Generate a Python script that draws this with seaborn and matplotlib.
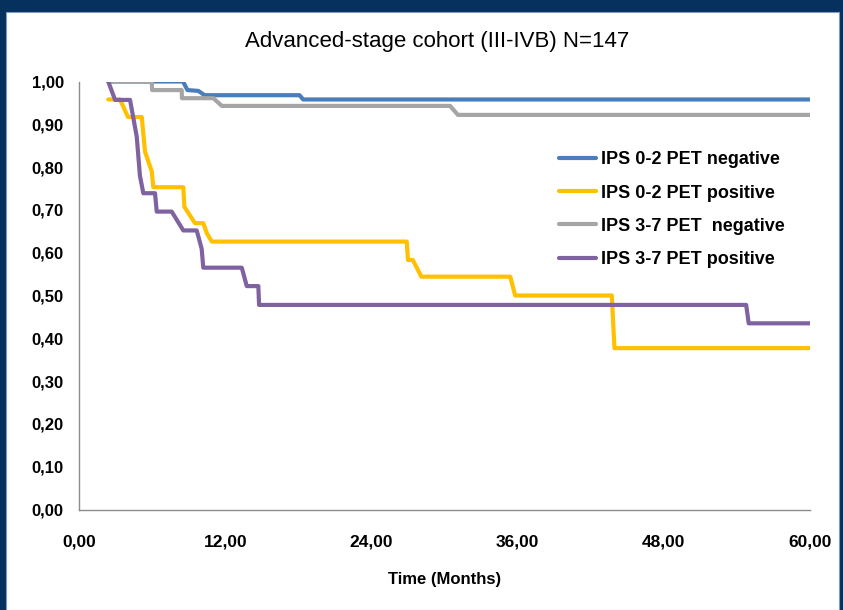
import matplotlib
matplotlib.use("Agg")
import matplotlib.pyplot as plt
import seaborn as sns
import pandas as pd
from matplotlib.ticker import FuncFormatter, MultipleLocator
from matplotlib.patches import Rectangle

# survival curves (time in months, survival fraction)
ips02_neg_t = [2.4, 8.54, 8.9, 9.8, 10.3, 18.1, 18.4, 60]
ips02_neg_s = [1.0, 1.0, 0.98, 0.978, 0.968, 0.968, 0.958, 0.958]

ips02_pos_t = [2.4, 3.37, 4.02, 5.15, 5.42, 5.97, 6.1, 8.56, 8.65, 9.52, 10.2, 10.5, 10.9,
               26.9, 27.0, 27.4, 28.1, 35.4, 35.8, 43.73, 43.95, 60]
ips02_pos_s = [0.958, 0.958, 0.917, 0.917, 0.836, 0.79, 0.753, 0.753, 0.707, 0.669, 0.669, 0.645, 0.626,
               0.626, 0.583, 0.583, 0.544, 0.544, 0.50, 0.50, 0.377, 0.377]

ips37_neg_t = [2.4, 5.97, 6.0, 8.43, 8.45, 11.03, 11.72, 30.46, 31.1, 60]
ips37_neg_s = [1.0, 1.0, 0.98, 0.98, 0.961, 0.961, 0.943, 0.943, 0.922, 0.922]

ips37_pos_t = [2.4, 2.96, 4.19, 4.74, 5.0, 5.28, 6.24, 6.38, 7.61, 8.56, 9.66, 10.07, 10.2,
               13.36, 13.77, 14.72, 14.78, 54.76, 54.97, 60]
ips37_pos_s = [1.0, 0.957, 0.957, 0.871, 0.78, 0.739, 0.739, 0.696, 0.696, 0.652, 0.652, 0.609, 0.565,
               0.565, 0.522, 0.522, 0.478, 0.478, 0.435, 0.435]

labels = ["IPS 0-2 PET negative", "IPS 0-2 PET positive", "IPS 3-7 PET  negative", "IPS 3-7 PET positive"]
colors = ["#4A7EBB", "#FFC000", "#A5A5A5", "#7F63A1"]

sns.set_style("white")
plt.rcParams['font.family'] = ['Liberation Sans', 'DejaVu Sans']
plt.rcParams['text.color'] = 'black'
plt.rcParams['axes.labelcolor'] = 'black'
plt.rcParams['xtick.labelcolor'] = 'black'
plt.rcParams['ytick.labelcolor'] = 'black'

fig = plt.figure(figsize=(8.43, 6.10), dpi=100)
fig.patch.set_facecolor("#06305E")
# white slide panel inside the navy frame
fig.patches.append(Rectangle((6 / 843, 0), 833 / 843, (610 - 12) / 610,
                             transform=fig.transFigure, facecolor="white",
                             edgecolor="#7F9CC0", linewidth=0.8, zorder=-10))

ax = fig.add_axes([79 / 843, 1 - 509.5 / 610, (810 - 79) / 843, (509.5 - 81.5) / 610])
ax.set_facecolor("none")
ax.set_zorder(5)

series = [(ips02_neg_t, ips02_neg_s), (ips02_pos_t, ips02_pos_s),
          (ips37_neg_t, ips37_neg_s), (ips37_pos_t, ips37_pos_s)]
for (t, s), lab, c in zip(series, labels, colors):
    df = pd.DataFrame({"t": t, "s": s})
    sns.lineplot(data=df, x="t", y="s", ax=ax, color=c, lw=3, label=lab,
                 sort=False, estimator=None)

ax.set_xlim(0, 60)
ax.set_ylim(0, 1)
ax.xaxis.set_major_locator(MultipleLocator(12))
ax.yaxis.set_major_locator(MultipleLocator(0.1))
fmt = FuncFormatter(lambda v, p: f"{v:.2f}".replace(".", ","))
ax.xaxis.set_major_formatter(fmt)
ax.yaxis.set_major_formatter(fmt)

for side in ["top", "right"]:
    ax.spines[side].set_visible(False)
for side in ["left", "bottom"]:
    ax.spines[side].set_color("#8C8C8C")
    ax.spines[side].set_linewidth(1)

ax.tick_params(axis="both", direction="out", length=5, width=1, color="#8C8C8C")
ax.tick_params(axis="y", pad=6, labelsize=12)
ax.tick_params(axis="x", pad=13, labelsize=12.5)
for lbl in ax.get_xticklabels() + ax.get_yticklabels():
    lbl.set_fontweight("bold")

ax.set_xlabel("Time (Months)", fontsize=12, fontweight="bold", labelpad=16)
ax.set_ylabel("")

fig.text(0.518, 1 - 42 / 610, "Advanced-stage cohort (III-IVB) N=147",
         ha="center", va="center", fontsize=16)

leg = ax.legend(loc="upper left", bbox_to_anchor=(0.635, 0.875), frameon=False,
                prop={"weight": "bold", "size": 13}, handlelength=2.0,
                handletextpad=0.3, labelspacing=0.9)

fig.savefig("out.png", dpi=100, facecolor=fig.get_facecolor())
